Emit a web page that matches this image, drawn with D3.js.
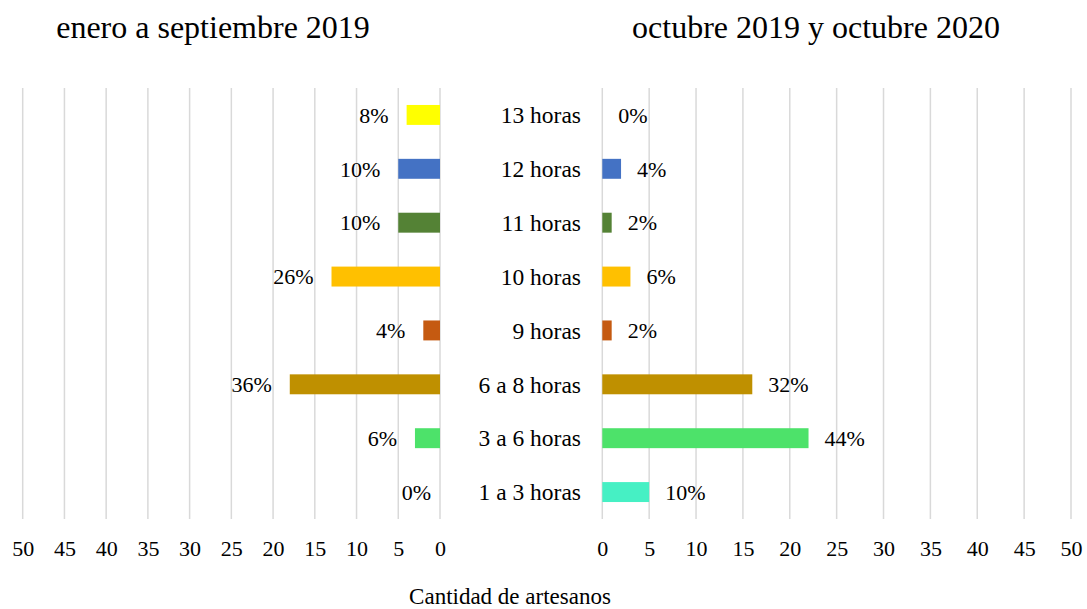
<!DOCTYPE html>
<html>
<head>
	<meta charset="UTF-8">
	<script src="https://cdn.jsdelivr.net/npm/d3@7"></script>
	<style>
		body { margin: 0; background: #fff; }
		text { font-family: "Liberation Serif", "Times New Roman", serif; fill: #000; }
	</style>
</head>
<body>
<div id="chart"></div>
<script>

// categorias (de arriba a abajo)
const horas = ["13 horas", "12 horas", "11 horas", "10 horas", "9 horas", "6 a 8 horas", "3 a 6 horas", "1 a 3 horas"];
// cantidad de artesanos
const antes = [4, 5, 5, 13, 2, 18, 3, 0];
const despues = [0, 2, 1, 3, 1, 16, 22, 5];
const pctAntes = ["8%", "10%", "10%", "26%", "4%", "36%", "6%", "0%"];
const pctDespues = ["0%", "4%", "2%", "6%", "2%", "32%", "44%", "10%"];
const colores = ["#FFFF00", "#4472C4", "#548235", "#FFC000", "#C55A11", "#BF9000", "#4DE26A", "#46F0C4"];
const ticks = [0, 5, 10, 15, 20, 25, 30, 35, 40, 45, 50];

const width = 1087, height = 609;
const yTop = 88, yBottom = 519;

const svg = d3.select("#chart").append("svg")
    .attr("width", width)
    .attr("height", height);

const xL = d3.scaleLinear().domain([50, 0]).range([22.7, 440]);
const xR = d3.scaleLinear().domain([0, 50]).range([602.3, 1071]);

const y = d3.scaleBand()
    .domain(horas)
    .range([yTop, yBottom])
    .paddingInner(0.63)
    .paddingOuter(0.315);

// lineas de cuadricula
[xL, xR].forEach(function(x) {
    svg.append("g").selectAll("line")
        .data(ticks)
        .enter().append("line")
        .attr("x1", d => x(d)).attr("x2", d => x(d))
        .attr("y1", yTop).attr("y2", yBottom)
        .attr("stroke", "#d9d9d9")
        .attr("stroke-width", 1.5);
});

// ejes
[xL, xR].forEach(function(x) {
    svg.append("g")
        .attr("transform", "translate(0," + yBottom + ")")
        .call(d3.axisBottom(x).tickValues(ticks).tickSize(0).tickPadding(21))
        .call(g => g.select(".domain").remove())
        .selectAll("text").style("font-size", "22px").style("font-family", "Liberation Serif");
});

const filas = horas.map((h, i) => ({h: h, a: antes[i], d: despues[i], pa: pctAntes[i], pd: pctDespues[i], c: colores[i]}));

// barras izquierda
svg.selectAll(".barL")
    .data(filas)
    .enter().append("rect")
    .attr("class", "barL")
    .attr("x", d => xL(d.a))
    .attr("width", d => xL(0) - xL(d.a))
    .attr("y", d => y(d.h))
    .attr("height", y.bandwidth())
    .attr("fill", d => d.c);

// barras derecha
svg.selectAll(".barR")
    .data(filas)
    .enter().append("rect")
    .attr("class", "barR")
    .attr("x", xR(0))
    .attr("width", d => xR(d.d) - xR(0))
    .attr("y", d => y(d.h))
    .attr("height", y.bandwidth())
    .attr("fill", d => d.c);

// etiquetas de valores
svg.selectAll(".lblL")
    .data(filas)
    .enter().append("text")
    .attr("x", d => xL(d.a) - (d.a ? 18 : 9))
    .attr("y", d => y(d.h) + y.bandwidth() / 2)
    .attr("dy", "0.35em")
    .attr("text-anchor", "end")
    .style("font-size", "22px")
    .text(d => d.pa);

svg.selectAll(".lblR")
    .data(filas)
    .enter().append("text")
    .attr("x", d => xR(d.d) + 16)
    .attr("y", d => y(d.h) + y.bandwidth() / 2)
    .attr("dy", "0.35em")
    .style("font-size", "22px")
    .text(d => d.pd);

// categorias
svg.selectAll(".cat")
    .data(filas)
    .enter().append("text")
    .attr("x", 581)
    .attr("y", d => y(d.h) + y.bandwidth() / 2)
    .attr("dy", "0.35em")
    .attr("text-anchor", "end")
    .style("font-size", "23.5px")
    .text(d => d.h);

// titulos
svg.append("text")
    .attr("x", 213).attr("y", 38)
    .attr("text-anchor", "middle")
    .style("font-size", "32px")
    .text("enero a septiembre 2019");

svg.append("text")
    .attr("x", 816).attr("y", 38)
    .attr("text-anchor", "middle")
    .style("font-size", "32px")
    .text("octubre 2019 y octubre 2020");

svg.append("text")
    .attr("x", 510).attr("y", 604)
    .attr("text-anchor", "middle")
    .style("font-size", "23px")
    .text("Cantidad de artesanos");

</script>
</body>
</html>
